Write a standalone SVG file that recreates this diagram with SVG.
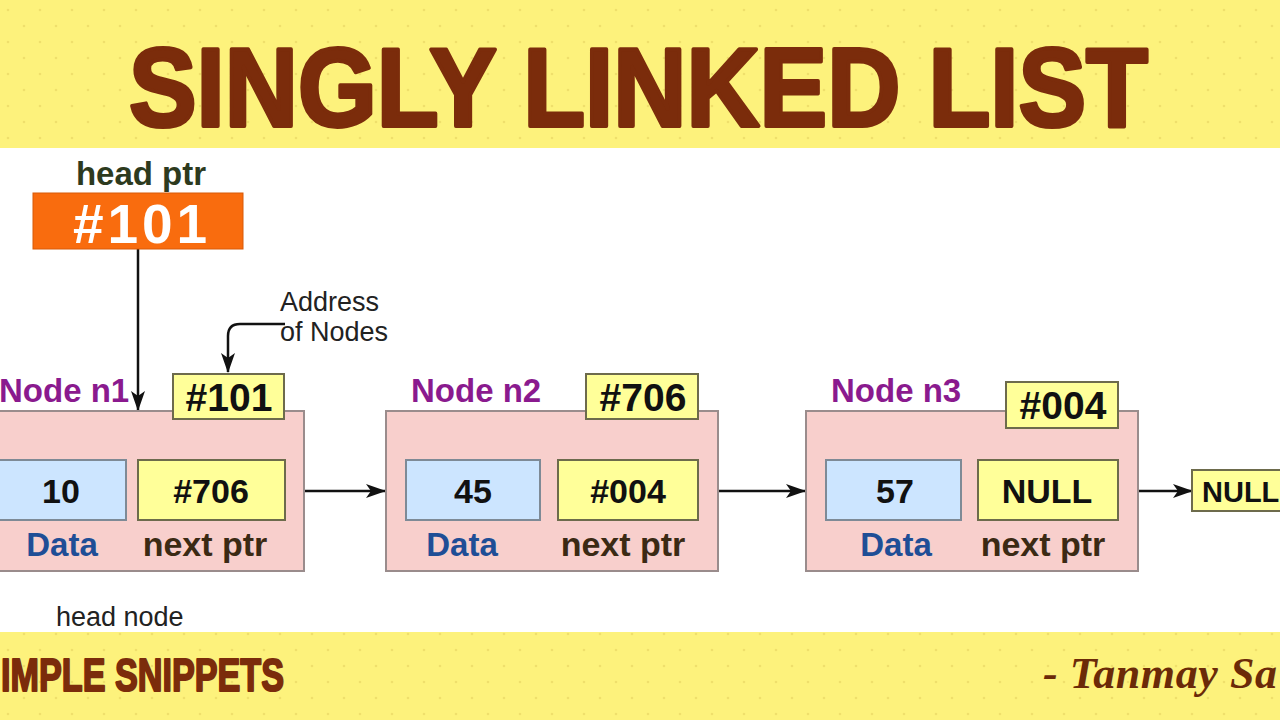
<svg xmlns="http://www.w3.org/2000/svg" width="1280" height="720" viewBox="0 0 1280 720">
<style>
.t{font-family:"Liberation Sans",Arial,sans-serif;}
.b{font-weight:bold;}
.node{fill:#F8CFCC;stroke:#9a8c8c;stroke-width:2;}
.ybox{fill:#FFFF99;stroke:#6d6b4c;stroke-width:2;}
.bbox{fill:#CCE5FF;stroke:#7e8a96;stroke-width:2;}
.lbl{fill:#8A1A8E;font-size:33px;}
.num{fill:#111;font-size:34px;}
.addr{fill:#111;font-size:39px;}
.data{fill:#1F4E96;font-size:33px;}
.nptr{fill:#3b2a14;font-size:34px;}
.conn{fill:none;stroke:#111;stroke-width:2.5;}
</style>
<defs>
<pattern id="dots" width="32" height="32" patternUnits="userSpaceOnUse">
<circle cx="8" cy="10" r="1.3" fill="#EFDF6C"/>
<circle cx="24" cy="26" r="1.3" fill="#EFDF6C"/>
</pattern>
<marker id="ah" viewBox="0 0 20 14" refX="19" refY="7" markerWidth="20" markerHeight="14" markerUnits="userSpaceOnUse" orient="auto">
<path d="M0,0 L20,7 L0,14 L5,7 Z" fill="#111"/>
</marker>
</defs>
<rect width="1280" height="720" fill="#FFFFFF"/>
<g id="top-band">
<rect x="0" y="0" width="1280" height="148" fill="#FDF27C"/>
<rect x="0" y="0" width="1280" height="148" fill="url(#dots)"/>
<text class="t b" x="129" y="126" font-size="112" fill="#7B2C0B" stroke="#7B2C0B" stroke-width="4" stroke-linejoin="round" textLength="1019" lengthAdjust="spacingAndGlyphs">SINGLY LINKED LIST</text>
</g>
<g id="bottom-band">
<rect x="0" y="632" width="1280" height="88" fill="#FDF27C"/>
<rect x="0" y="632" width="1280" height="88" fill="url(#dots)"/>
<text class="t b" x="1" y="691" font-size="46" fill="#7B2C0B" stroke="#7B2C0B" stroke-width="2" stroke-linejoin="round" textLength="283" lengthAdjust="spacingAndGlyphs">IMPLE SNIPPETS</text>
<text x="1043" y="688" font-family="Liberation Serif,serif" font-weight="bold" font-style="italic" font-size="44" fill="#6B2A08" textLength="234">- Tanmay Sa</text>
</g>
<g id="connectors">
<path class="conn" d="M138,249 L138,410" marker-end="url(#ah)"/>
<path class="conn" d="M285,324 L240,324 Q228,324 228,336 L228,372" marker-end="url(#ah)"/>
<path class="conn" d="M285,491 L385,491" marker-end="url(#ah)"/>
<path class="conn" d="M698,491 L805,491" marker-end="url(#ah)"/>
<path class="conn" d="M1112,491 L1192,491" marker-end="url(#ah)"/>
</g>
<g id="head-ptr">
<text class="t b" x="141" y="185" font-size="33" fill="#2d3a1e" text-anchor="middle">head ptr</text>
<rect x="33" y="193" width="210" height="56" fill="#F96C0E" stroke="#d85a08" stroke-width="1"/>
<text class="t b" x="140" y="243" font-size="55" fill="#FFFFFF" text-anchor="middle" textLength="134">#101</text>
</g>
<g id="address-note">
<text class="t" x="280" y="311" font-size="27" fill="#222">Address</text>
<text class="t" x="280" y="341" font-size="27" fill="#222">of Nodes</text>
</g>
<g id="node-n1">
<rect class="node" x="-5" y="411" width="309" height="160"/>
<text class="t b lbl" x="-1" y="402">Node n1</text>
<rect class="ybox" x="173" y="374" width="111" height="45"/>
<text class="t b addr" x="229" y="411" text-anchor="middle">#101</text>
<rect class="bbox" x="-5" y="460" width="131" height="60"/>
<text class="t b num" x="61" y="503" text-anchor="middle">10</text>
<rect class="ybox" x="138" y="460" width="147" height="60"/>
<text class="t b num" x="211" y="503" text-anchor="middle">#706</text>
<text class="t b data" x="62" y="556" text-anchor="middle">Data</text>
<text class="t b nptr" x="205" y="556" text-anchor="middle">next ptr</text>
</g>
<g id="node-n2">
<rect class="node" x="386" y="411" width="332" height="160"/>
<text class="t b lbl" x="411" y="402">Node n2</text>
<rect class="ybox" x="586" y="374" width="112" height="45"/>
<text class="t b addr" x="643" y="411" text-anchor="middle">#706</text>
<rect class="bbox" x="406" y="460" width="134" height="60"/>
<text class="t b num" x="473" y="503" text-anchor="middle">45</text>
<rect class="ybox" x="558" y="460" width="140" height="60"/>
<text class="t b num" x="628" y="503" text-anchor="middle">#004</text>
<text class="t b data" x="462" y="556" text-anchor="middle">Data</text>
<text class="t b nptr" x="623" y="556" text-anchor="middle">next ptr</text>
</g>
<g id="node-n3">
<rect class="node" x="806" y="411" width="332" height="160"/>
<text class="t b lbl" x="831" y="402">Node n3</text>
<rect class="ybox" x="1006" y="382" width="112" height="46"/>
<text class="t b addr" x="1063" y="419" text-anchor="middle">#004</text>
<rect class="bbox" x="826" y="460" width="135" height="60"/>
<text class="t b num" x="895" y="503" text-anchor="middle">57</text>
<rect class="ybox" x="978" y="460" width="140" height="60"/>
<text class="t b num" x="1047" y="503" text-anchor="middle">NULL</text>
<text class="t b data" x="896" y="556" text-anchor="middle">Data</text>
<text class="t b nptr" x="1043" y="556" text-anchor="middle">next ptr</text>
</g>
<g id="null-end">
<rect class="ybox" x="1192" y="470" width="98" height="41"/>
<text class="t b" x="1202" y="502" font-size="29" fill="#111">NULL</text>
</g>
<g id="head-node-label">
<text class="t" x="56" y="626" font-size="27" fill="#222">head node</text>
</g>
</svg>
